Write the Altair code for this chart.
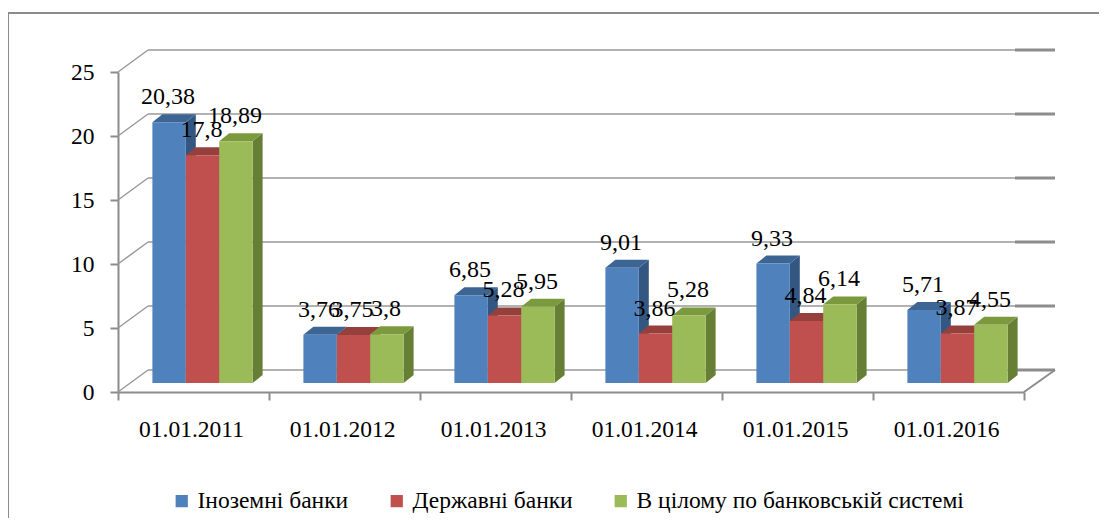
import altair as alt
import pandas as pd

# ---- data ----
dates = ["01.01.2011", "01.01.2012", "01.01.2013", "01.01.2014", "01.01.2015", "01.01.2016"]
series = ["Іноземні банки", "Державні банки", "В цілому по банковській системі"]
foreign = [20.38, 3.76, 6.85, 9.01, 9.33, 5.71]
state = [17.8, 3.75, 5.28, 3.86, 4.84, 3.87]
overall = [18.89, 3.8, 5.95, 5.28, 6.14, 4.55]
y_ticks = [0, 5, 10, 15, 20, 25]

# ---- style ----
front_colors = ["#4F81BD", "#C0504D", "#9BBB59"]
top_colors = ["#3D6594", "#96403D", "#7B9A3E"]
side_colors = ["#345782", "#7F3533", "#667F35"]
FONT = "Liberation Serif"
GRAY = "#8c8c8c"

W, H = 906, 320
N = len(dates)
PX_X = W / N           # pixels per category unit
PX_Y = H / 25          # pixels per value unit
BW = 33.4 / PX_X       # bar width in category units
DX = 10 / PX_X         # bar depth (x) in category units
DY = 8 / PX_Y          # bar depth (y) in value units
SX, SY = 9, -9         # bar plane shift in px
WX, WY = 30, -22       # back wall shift in px

values = [foreign, state, overall]

front_rows, side_rows, top_rows = [], [], []
for i, d in enumerate(dates):
    for j, s in enumerate(series):
        v = values[j][i]
        x0 = i + 0.5 - 1.5 * BW + j * BW
        x1 = x0 + BW
        bid = f"{i}-{j}"
        front_rows.append(dict(series=s, date=d, v=v, x0=x0, x1=x1, xc=(x0 + x1) / 2,
                               base=0, label=str(v).replace(".", ",")))
        side_rows.append(dict(id=bid, x=x1, lo=0, hi=v, c=side_colors[j]))
        side_rows.append(dict(id=bid, x=x1 + DX, lo=DY, hi=v + DY, c=side_colors[j]))
        top_rows.append(dict(id=bid, y=v, xa=x0, xb=x1, c=top_colors[j]))
        top_rows.append(dict(id=bid, y=v + DY, xa=x0 + DX, xb=x1 + DX, c=top_colors[j]))

df_front = pd.DataFrame(front_rows)
df_side = pd.DataFrame(side_rows)
df_top = pd.DataFrame(top_rows)
df_grid = pd.DataFrame({"v": y_ticks, "xs": 0, "xe": N})
df_cat = pd.DataFrame({"date": dates, "xc": [i + 0.5 for i in range(N)], "base": 0})

xs = alt.Scale(domain=[0, N], nice=False, zero=False)
ys = alt.Scale(domain=[0, 25], nice=False)

# identical axis definitions in every layer so they merge cleanly
AX = alt.Axis(values=list(range(N + 1)), labels=False, tickSize=8, grid=False, title=None,
              domainColor=GRAY, domainWidth=2, tickColor=GRAY, tickWidth=2)
AY = alt.Axis(values=y_ticks, tickSize=8, grid=False, title=None, domainColor=GRAY,
              domainWidth=2, tickColor=GRAY, tickWidth=2, labelFont=FONT, labelFontSize=23.5,
              labelColor="black", labelPadding=16)


def X(f):
    return alt.X(f, scale=xs, axis=AX)


def Y(f):
    return alt.Y(f, scale=ys, axis=AY)


border = alt.Chart(pd.DataFrame({"a": [0]})).mark_rect(
    filled=False, color=GRAY, strokeWidth=2
).encode(x=alt.value(-110), x2=alt.value(1000), y=alt.value(-59), y2=alt.value(470))

grid = alt.Chart(df_grid).mark_rule(
    color="#999999", strokeWidth=1.5, xOffset=WX, x2Offset=WX + 1, yOffset=WY
).encode(x=X("xs:Q"), x2="xe:Q", y=Y("v:Q"))

grid_end = alt.Chart(df_grid).mark_rule(
    color=GRAY, strokeWidth=3, xOffset=-9, x2Offset=WX + 1, yOffset=WY
).encode(x=X("xe:Q"), x2="xe:Q", y=Y("v:Q"))

diag = alt.Chart(df_grid).mark_rule(
    color="#999999", strokeWidth=1.5, x2Offset=WX, y2Offset=WY
).encode(x=X("xs:Q"), x2="xs:Q", y=Y("v:Q"), y2="v:Q")

floor_diag = alt.Chart(df_grid).transform_filter(alt.datum.v == 0).mark_rule(
    color=GRAY, strokeWidth=2, x2Offset=WX + 1, y2Offset=WY
).encode(x=X("xe:Q"), x2="xe:Q", y=Y("v:Q"), y2="v:Q")

side = alt.Chart(df_side).mark_area(
    orient="vertical", xOffset=SX, yOffset=SY, y2Offset=SY
).encode(x=X("x:Q"), y=Y("lo:Q"), y2="hi:Q", detail="id:N",
         color=alt.Color("c:N", scale=None))

top = alt.Chart(df_top).mark_area(
    orient="horizontal", xOffset=SX, x2Offset=SX, yOffset=SY
).encode(y=Y("y:Q"), x=X("xa:Q"), x2="xb:Q", detail="id:N",
         color=alt.Color("c:N", scale=None))

front = alt.Chart(df_front).mark_bar(
    xOffset=SX, x2Offset=SX, yOffset=SY, y2Offset=SY
).encode(
    x=X("x0:Q"), x2="x1:Q", y=Y("v:Q"), y2="base:Q",
    color=alt.Color("series:N", sort=series,
                    scale=alt.Scale(domain=series, range=front_colors),
                    legend=alt.Legend(orient="none", legendX=52, legendY=417,
                                      direction="horizontal", title=None,
                                      symbolType="square", symbolSize=150,
                                      symbolStrokeWidth=0, labelFont=FONT,
                                      labelFontSize=23.5, labelColor="black",
                                      labelOffset=4, columnPadding=36, padding=0,
                                      labelLimit=0)),
)

labels = alt.Chart(df_front).mark_text(
    font=FONT, fontSize=24, color="black", baseline="alphabetic",
    xOffset=SX - 1, yOffset=SY, dy=-18
).encode(x=X("xc:Q"), y=Y("v:Q"), text="label:N")

cats = alt.Chart(df_cat).mark_text(
    font=FONT, fontSize=23.5, color="black", baseline="alphabetic", dy=45, xOffset=-2
).encode(x=X("xc:Q"), y=Y("base:Q"), text="date:N")

chart = alt.layer(
    border, grid, grid_end, diag, floor_diag, side, top, front, labels, cats
).properties(
    width=W, height=H,
    autosize=alt.AutoSizeParams(type="none"),
    padding={"left": 110, "top": 64, "right": 75, "bottom": 126},
).configure_view(strokeWidth=0)

chart.save("out.html", embed_options={"renderer": "svg", "actions": False})
